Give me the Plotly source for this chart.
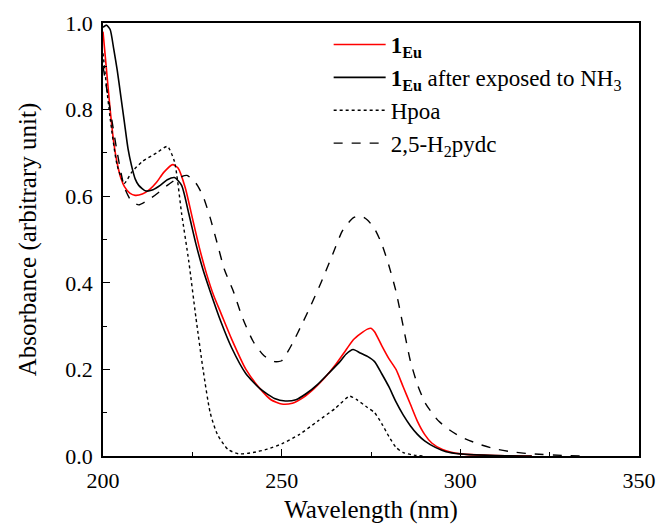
import plotly.graph_objects as go

# 1Eu (red)
red_x = [200, 201, 202, 203, 204, 205, 206, 207.5, 209, 211, 213, 215, 217, 219.5, 221, 223, 225, 227, 229, 231, 233, 236, 240, 244, 247, 250, 253, 256, 259, 262, 265, 268, 270, 272, 274, 275, 276, 278, 280, 282, 284, 286, 288, 290, 292, 295, 300, 310, 320]
red_y = [0.98, 0.89, 0.80, 0.725, 0.675, 0.642, 0.622, 0.607, 0.602, 0.605, 0.615, 0.632, 0.655, 0.673, 0.665, 0.62, 0.55, 0.48, 0.42, 0.37, 0.33, 0.27, 0.2, 0.155, 0.13, 0.12, 0.122, 0.135, 0.155, 0.18, 0.21, 0.245, 0.268, 0.282, 0.293, 0.295, 0.287, 0.255, 0.225, 0.2, 0.16, 0.12, 0.08, 0.05, 0.03, 0.015, 0.005, 0.001, 0.0]

# 1Eu after exposed to NH3 (black)
blk_x = [200, 201, 202, 203, 204, 205, 206, 207, 208, 209, 210, 212, 214, 216, 218, 220, 222, 224, 226, 228, 230, 233, 236, 240, 244, 248, 251, 254, 257, 260, 263, 266, 268, 270, 272, 274, 276, 278, 280, 282, 284, 286, 288, 290, 293, 296, 300, 310, 320]
blk_y = [0.99, 0.995, 0.985, 0.94, 0.89, 0.83, 0.77, 0.71, 0.67, 0.64, 0.625, 0.612, 0.615, 0.625, 0.638, 0.643, 0.625, 0.56, 0.49, 0.43, 0.38, 0.31, 0.25, 0.19, 0.155, 0.133, 0.127, 0.13, 0.145, 0.165, 0.19, 0.215, 0.235, 0.246, 0.238, 0.23, 0.218, 0.19, 0.16, 0.125, 0.095, 0.07, 0.05, 0.035, 0.02, 0.01, 0.005, 0.001, 0.0]

# Hpoa (dotted)
hpoa_x = [200, 202, 204, 206, 208, 211, 215, 218, 220, 222, 224, 226, 228, 230, 232, 235, 238, 242, 246, 250, 255, 260, 265, 269, 271, 274, 276, 278, 280, 282, 284, 287, 290]
hpoa_y = [0.93, 0.78, 0.67, 0.63, 0.655, 0.68, 0.70, 0.715, 0.68, 0.56, 0.45, 0.32, 0.2, 0.1, 0.05, 0.015, 0.005, 0.008, 0.016, 0.028, 0.05, 0.08, 0.11, 0.138, 0.13, 0.112, 0.1, 0.075, 0.045, 0.02, 0.008, 0.002, 0.0]

# 2,5-H2pydc (dashed)
pydc_x = [200, 202, 204, 206, 208, 210, 212, 215, 218, 221, 223.5, 226, 228, 230, 232, 234, 236.5, 239, 242, 245, 248, 250, 253, 256, 258, 261, 264, 267, 270, 272, 274, 276, 278, 280, 282, 284, 286, 288, 290, 292, 294, 297, 300, 305, 310, 315, 320, 330, 335]
pydc_y = [0.9, 0.8, 0.7, 0.62, 0.588, 0.58, 0.588, 0.605, 0.625, 0.642, 0.648, 0.63, 0.6, 0.55, 0.49, 0.43, 0.38, 0.32, 0.265, 0.232, 0.218, 0.22, 0.26, 0.31, 0.345, 0.4, 0.46, 0.52, 0.55, 0.555, 0.545, 0.525, 0.49, 0.44, 0.38, 0.3, 0.22, 0.165, 0.125, 0.1, 0.08, 0.06, 0.045, 0.028, 0.016, 0.009, 0.005, 0.001, 0.0]

names = [
    "<b>1</b><sub><b>Eu</b></sub>",
    "<b>1</b><sub><b>Eu</b></sub> after exposed to NH<sub>3</sub>",
    "Hpoa",
    "2,5-H<sub>2</sub>pydc",
]

FONT = "Liberation Serif"

fig = go.Figure()
fig.add_trace(go.Scatter(x=red_x, y=red_y, mode="lines", name=names[0],
                         line=dict(color="#ff0000", width=1.6, shape="spline", smoothing=0.6)))
fig.add_trace(go.Scatter(x=blk_x, y=blk_y, mode="lines", name=names[1],
                         line=dict(color="black", width=1.6, shape="spline", smoothing=0.6)))
fig.add_trace(go.Scatter(x=hpoa_x, y=hpoa_y, mode="lines", name=names[2],
                         line=dict(color="black", width=1.4, dash="dot", shape="spline", smoothing=0.6)))
fig.add_trace(go.Scatter(x=pydc_x, y=pydc_y, mode="lines", name=names[3],
                         line=dict(color="black", width=1.4, dash="dash", shape="spline", smoothing=0.6)))

axis_common = dict(showline=True, linecolor="black", linewidth=1.5, mirror=True,
                   ticks="inside", ticklen=7, tickwidth=1.3, tickcolor="black",
                   showgrid=False, zeroline=False, automargin=False,
                   tickfont=dict(family=FONT, size=22, color="black"))

fig.update_xaxes(range=[200, 350], dtick=50, tick0=200,
                 minor=dict(ticks="inside", ticklen=4, tickcolor="black", dtick=25, tick0=200),
                 ticklabelstandoff=4,
                 title=dict(text="Wavelength (nm)", font=dict(family=FONT, size=25, color="black"), standoff=8),
                 **axis_common)
fig.update_yaxes(range=[0, 1.0], dtick=0.2, tick0=0, tickformat=".1f",
                 minor=dict(ticks="inside", ticklen=4, tickcolor="black", dtick=0.1, tick0=0),
                 ticklabelstandoff=4,
                 title=dict(text="Absorbance (arbitrary unit)", font=dict(family=FONT, size=25, color="black"), standoff=22),
                 **axis_common)

fig.update_layout(
    width=661, height=526,
    margin=dict(l=103, r=22, t=23, b=70),
    paper_bgcolor="white", plot_bgcolor="white",
    font=dict(family=FONT, color="black"),
    showlegend=True,
    legend=dict(x=0.421, y=1.0, xanchor="left", yanchor="top",
                bgcolor="rgba(255,255,255,0)", borderwidth=0,
                font=dict(family=FONT, size=23, color="black"),
                itemwidth=52, tracegroupgap=0),
)

# remove the default 8px page margin so the figure sits at the window origin
fig.write_html("out.html",
               config={"displayModeBar": False},
               post_script="document.body.style.margin='0';document.body.style.overflow='hidden';")
